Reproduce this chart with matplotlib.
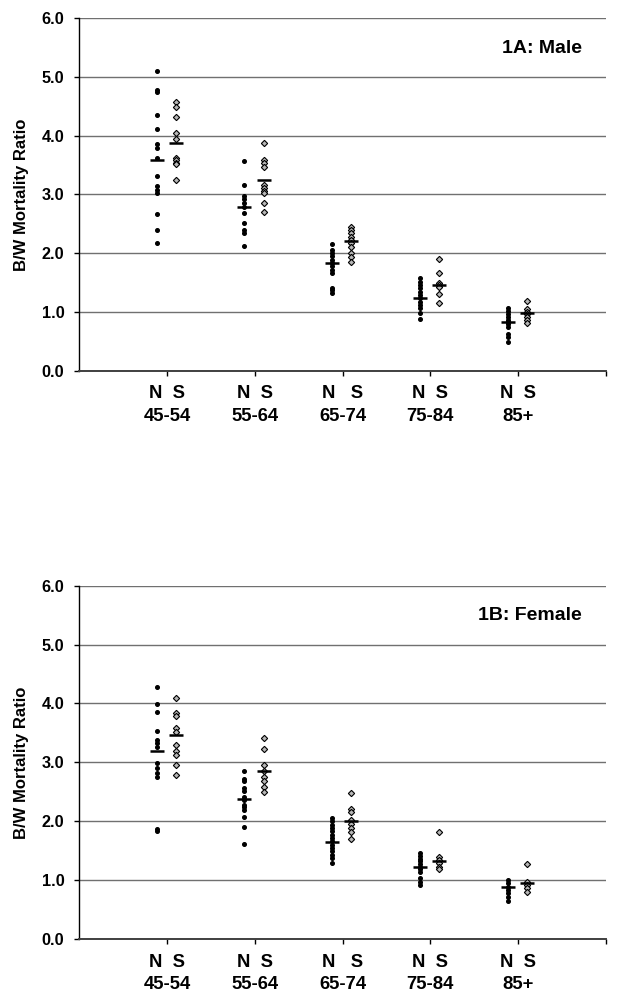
import matplotlib
matplotlib.use("Agg")
import matplotlib.pyplot as plt

plt.rcParams['font.family'] = ['Liberation Sans', 'DejaVu Sans']

age_groups = ["45-54", "55-64", "65-74", "75-84", "85+"]
ns_labels = ["N  S", "N  S", "N   S", "N  S", "N  S"]

# Panel 1A: Male
male_north = [
    [5.10, 4.78, 4.75, 4.35, 4.11, 3.85, 3.79, 3.62, 3.31, 3.15, 3.07, 3.03, 2.66, 2.39, 2.18],
    [3.57, 3.16, 2.98, 2.93, 2.86, 2.78, 2.68, 2.52, 2.40, 2.34, 2.13],
    [2.15, 2.06, 2.01, 1.95, 1.89, 1.84, 1.78, 1.71, 1.66, 1.41, 1.37, 1.33],
    [1.57, 1.51, 1.46, 1.40, 1.34, 1.29, 1.23, 1.17, 1.12, 1.06, 0.99, 0.88],
    [1.06, 1.02, 0.96, 0.92, 0.87, 0.83, 0.79, 0.75, 0.62, 0.58, 0.49],
]
male_south = [
    [4.58, 4.48, 4.31, 4.05, 3.94, 3.62, 3.58, 3.54, 3.51, 3.24],
    [3.87, 3.58, 3.53, 3.47, 3.16, 3.11, 3.06, 3.02, 2.85, 2.70],
    [2.45, 2.39, 2.34, 2.28, 2.22, 2.17, 2.11, 2.00, 1.93, 1.85],
    [1.90, 1.67, 1.50, 1.46, 1.42, 1.30, 1.16],
    [1.19, 1.05, 1.00, 0.96, 0.92, 0.86, 0.81],
]
male_north_mean = [3.58, 2.78, 1.83, 1.23, 0.83]
male_south_mean = [3.88, 3.25, 2.21, 1.46, 0.99]

# Panel 1B: Female
female_north = [
    [4.28, 3.99, 3.85, 3.54, 3.38, 3.33, 3.27, 2.99, 2.90, 2.82, 2.75, 1.87, 1.83],
    [2.86, 2.72, 2.68, 2.56, 2.51, 2.42, 2.37, 2.28, 2.24, 2.20, 2.08, 1.91, 1.62],
    [2.05, 2.00, 1.94, 1.88, 1.83, 1.77, 1.71, 1.66, 1.60, 1.55, 1.49, 1.43, 1.38, 1.30],
    [1.46, 1.41, 1.37, 1.32, 1.28, 1.23, 1.19, 1.14, 1.04, 0.98, 0.92],
    [1.01, 0.95, 0.89, 0.84, 0.78, 0.72, 0.65],
]
female_south = [
    [4.09, 3.84, 3.78, 3.58, 3.52, 3.30, 3.19, 3.13, 2.96, 2.78],
    [3.41, 3.23, 2.95, 2.85, 2.76, 2.68, 2.59, 2.50],
    [2.48, 2.21, 2.16, 2.03, 1.96, 1.88, 1.82, 1.70],
    [1.82, 1.40, 1.35, 1.29, 1.23, 1.19],
    [1.27, 0.98, 0.92, 0.87, 0.81],
]
female_north_mean = [3.19, 2.38, 1.65, 1.22, 0.89]
female_south_mean = [3.46, 2.86, 2.00, 1.33, 0.95]

n_off = -0.12
s_off = 0.10
bar_half = 0.08


def draw_panel(ax, north, south, north_mean, south_mean, title):
    for i in range(len(age_groups)):
        xc = i + 1
        ax.plot([xc + n_off] * len(north[i]), north[i], linestyle="none", marker="o",
                markersize=2.6, color="black", zorder=3)
        ax.plot([xc + s_off] * len(south[i]), south[i], linestyle="none", marker="D",
                markersize=3.2, markerfacecolor="#b8b8b8", markeredgecolor="black",
                markeredgewidth=0.8, zorder=3)
        ax.hlines(north_mean[i], xc + n_off - bar_half, xc + n_off + bar_half,
                  color="black", linewidth=1.8, zorder=4)
        ax.hlines(south_mean[i], xc + s_off - bar_half, xc + s_off + bar_half,
                  color="black", linewidth=1.8, zorder=4)

    ax.set_xlim(0, 6)
    ax.set_ylim(0, 6)
    ax.set_yticks([0, 1, 2, 3, 4, 5, 6])
    ax.set_yticklabels(["%.1f" % v for v in [0, 1, 2, 3, 4, 5, 6]])
    ax.set_xticks([1, 2, 3, 4, 5, 6])
    labels = [ns_labels[i] + "\n" + age_groups[i] for i in range(5)] + [""]
    ax.set_xticklabels(labels, fontweight="bold", fontsize=13.3, linespacing=1.45)
    for t in ax.get_yticklabels():
        t.set_fontweight("bold")
        t.set_fontsize(11.7)
    ax.tick_params(axis="both", direction="out", length=3.8, width=1, color="black")
    ax.tick_params(axis="x", pad=6.5)
    ax.tick_params(axis="y", pad=7)
    ax.yaxis.grid(True, color="#707070", linewidth=1.0)
    ax.set_axisbelow(True)
    ax.spines["top"].set_visible(False)
    ax.spines["right"].set_visible(False)
    ax.spines["left"].set_linewidth(1.0)
    ax.spines["bottom"].set_linewidth(1.4)
    ax.spines["bottom"].set_color("#404040")
    ax.text(0.954, 0.915, title, transform=ax.transAxes, ha="right", va="center",
            fontsize=14, fontweight="bold")
    ax.set_ylabel("B/W Mortality Ratio", fontsize=12, fontweight="bold", labelpad=9)


fig = plt.figure(figsize=(6.21, 10.02), dpi=100)
ax1 = fig.add_axes([0.1277, 0.630, 0.848, 0.352])
ax2 = fig.add_axes([0.1277, 0.0626, 0.848, 0.353])

draw_panel(ax1, male_north, male_south, male_north_mean, male_south_mean, "1A: Male")
draw_panel(ax2, female_north, female_south, female_north_mean, female_south_mean, "1B: Female")

fig.savefig("out.png", dpi=100)
